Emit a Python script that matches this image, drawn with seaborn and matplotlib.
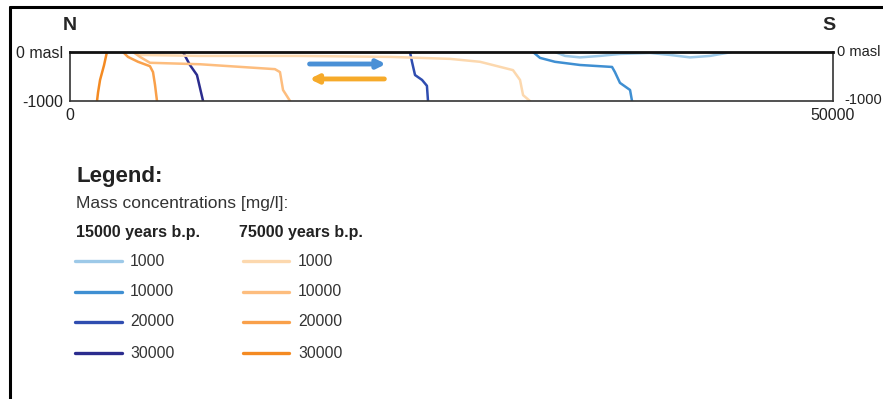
import pandas as pd
import seaborn as sns
import matplotlib.pyplot as plt
from matplotlib.lines import Line2D

# profile extent (m along section, m depth)
x_max = 50000
z_min = -1000

# concentration isolines, read from the section (x in m, z in masl)
labels = ["1000", "10000", "20000", "30000"]

x_15k_1000 = [31780, 32440, 33420, 34730, 36040, 38010, 39320, 40630, 41940, 43380]
z_15k_1000 = [0, -80, -110, -80, -40, -20, -60, -110, -80, 0]
x_15k_10000 = [30340, 30800, 31780, 33420, 35520, 35710, 36040, 36700, 36830]
z_15k_10000 = [0, -120, -200, -265, -305, -410, -630, -775, -1000]
x_15k_20000 = [22280, 22410, 22610, 23070, 23390, 23460]
z_15k_20000 = [0, -200, -470, -570, -690, -1000]
x_15k_30000 = [7400, 7860, 8320, 8520, 8720]
z_15k_30000 = [0, -265, -470, -735, -1000]

x_75k_1000 = [4300, 4600, 8500, 15000, 21000, 24900, 26870, 29030, 29490, 29690, 30140]
z_75k_1000 = [0, -60, -80, -80, -100, -140, -200, -370, -570, -880, -1000]
x_75k_10000 = [4130, 4590, 5240, 8520, 13430, 13760, 13960, 14420]
z_75k_10000 = [0, -100, -220, -250, -350, -410, -775, -1000]
x_75k_20000 = [3470, 3800, 4460, 5240, 5440, 5570, 5700]
z_75k_20000 = [0, -100, -200, -290, -410, -670, -1000]
x_75k_30000 = [2420, 2230, 1970, 1840, 1770]
z_75k_30000 = [0, -270, -570, -820, -1000]

colors_15k = ["#9dc9e8", "#3f8fd2", "#2f4db0", "#2b2c8e"]
colors_75k = ["#fcd8ae", "#fdbd7e", "#f9a04a", "#f48a22"]

# flow arrows (x start, x end, z)
arrow_blue = (15700, 20700, -245)
arrow_orange = (20600, 15700, -550)


def main():
    sns.set_theme(style="white")
    plt.rcParams["font.family"] = ["Liberation Sans", "DejaVu Sans"]

    lines_15k = [(x_15k_1000, z_15k_1000), (x_15k_10000, z_15k_10000),
                 (x_15k_20000, z_15k_20000), (x_15k_30000, z_15k_30000)]
    lines_75k = [(x_75k_1000, z_75k_1000), (x_75k_10000, z_75k_10000),
                 (x_75k_20000, z_75k_20000), (x_75k_30000, z_75k_30000)]

    rows = []
    palette = {}
    for tag, group, cols in [("15k", lines_15k, colors_15k), ("75k", lines_75k, colors_75k)]:
        for lab, (xs, zs), c in zip(labels, group, cols):
            name = f"{tag} {lab}"
            palette[name] = c
            for i, (xv, zv) in enumerate(zip(xs, zs)):
                rows.append({"series": name, "x": xv, "z": zv, "order": i})
    df = pd.DataFrame(rows)

    fig = plt.figure(figsize=(8.83, 3.99), dpi=100)
    ax = fig.add_axes([70 / 883, 1 - 101 / 399, 763 / 883, 49 / 399])

    sns.lineplot(data=df, x="x", y="z", hue="series", palette=palette,
                 estimator=None, sort=False, units="series", legend=False,
                 linewidth=1.8, ax=ax)

    ax.annotate("", xy=(arrow_blue[1], arrow_blue[2]), xytext=(arrow_blue[0], arrow_blue[2]),
                arrowprops=dict(arrowstyle="-|>", color="#4a90d6", lw=3.5,
                                mutation_scale=12, shrinkA=0, shrinkB=0))
    ax.annotate("", xy=(arrow_orange[1], arrow_orange[2]), xytext=(arrow_orange[0], arrow_orange[2]),
                arrowprops=dict(arrowstyle="-|>", color="#f6aa2a", lw=3.5,
                                mutation_scale=12, shrinkA=0, shrinkB=0))

    ax.set_xlim(0, x_max)
    ax.set_ylim(z_min, 0)
    ax.set_xlabel("")
    ax.set_ylabel("")
    ax.set_xticks([0, x_max])
    ax.set_xticklabels(["0", "50000"], fontsize=11.5)
    ax.set_yticks([0, z_min])
    ax.set_yticklabels(["0 masl", "-1000"], fontsize=11.5)
    ax.tick_params(axis="both", length=0, colors="#222222")
    ax.tick_params(axis="y", pad=5)
    ax.tick_params(axis="x", pad=5)
    for side in ["left", "right", "bottom"]:
        ax.spines[side].set_color("#333333")
        ax.spines[side].set_linewidth(1.2)
    ax.spines["top"].set_color("#111111")
    ax.spines["top"].set_linewidth(2)

    # right-hand depth labels, a little smaller so they stay inside the image
    ax.annotate("0 masl", xy=(1.0, 0), xycoords=ax.get_yaxis_transform(),
                xytext=(3, 0), textcoords="offset points", fontsize=10.5,
                color="#222222", ha="left", va="center", annotation_clip=False)
    ax.annotate("-1000", xy=(1.0, z_min), xycoords=ax.get_yaxis_transform(),
                xytext=(8, 1), textcoords="offset points", fontsize=10.5,
                color="#222222", ha="left", va="center", annotation_clip=False)

    fig.text(70 / 883, 1 - 26 / 399, "N", fontsize=14, fontweight="bold", ha="center", va="center")
    fig.text(829 / 883, 1 - 26 / 399, "S", fontsize=14, fontweight="bold", ha="center", va="center")

    # outer frame (clipped on right and bottom)
    fig.add_artist(Line2D([10 / 883, 10 / 883], [0, 1 - 7 / 399], transform=fig.transFigure,
                          color="black", lw=2.2))
    fig.add_artist(Line2D([10 / 883, 1], [1 - 7 / 399, 1 - 7 / 399], transform=fig.transFigure,
                          color="black", lw=2.2))

    # legend block
    fig.text(76 / 883, 1 - 182 / 399, "Legend:", fontsize=16, fontweight="bold",
             color="#222222", va="baseline")
    fig.text(76 / 883, 1 - 208 / 399, "Mass concentrations [mg/l]:", fontsize=12.5,
             color="#333333", va="baseline")
    fig.text(76 / 883, 1 - 237 / 399, "15000 years b.p.", fontsize=11.5, fontweight="bold",
             color="#222222", va="baseline")
    fig.text(239 / 883, 1 - 237 / 399, "75000 years b.p.", fontsize=11.5, fontweight="bold",
             color="#222222", va="baseline")
    rows_y = [261, 292, 322, 353]
    for lab, c1, c2, yy in zip(labels, colors_15k, colors_75k, rows_y):
        yf = 1 - yy / 399
        fig.add_artist(Line2D([75 / 883, 122 / 883], [yf, yf], transform=fig.transFigure,
                              color=c1, lw=2.4))
        fig.text(130 / 883, yf, lab, fontsize=11.3, color="#333333", va="center")
        fig.add_artist(Line2D([243 / 883, 289 / 883], [yf, yf], transform=fig.transFigure,
                              color=c2, lw=2.4))
        fig.text(298 / 883, yf, lab, fontsize=11.3, color="#333333", va="center")

    fig.savefig("out.png", dpi=100)
    plt.close(fig)


if __name__ == "__main__":
    main()
